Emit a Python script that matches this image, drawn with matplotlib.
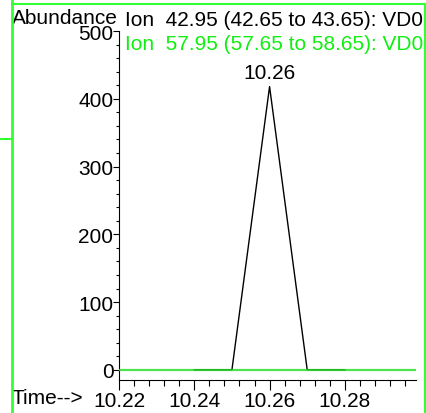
import matplotlib.pyplot as plt
from matplotlib.ticker import MultipleLocator
from matplotlib.lines import Line2D

plt.rcParams['font.family'] = ['Liberation Sans', 'DejaVu Sans']

# ion traces
time_a = [10.24, 10.25, 10.26, 10.27, 10.28]
abund_a = [0, 0, 418, 0, 0]
time_b = [10.22, 10.23, 10.24, 10.25, 10.26, 10.27, 10.28, 10.29, 10.30]
abund_b = [0, 0, 0, 0, 0, 0, 0, 0, 0]
peak_time = 10.26
peak_abund = 418
label_a = 'Ion  42.95 (42.65 to 43.65): VD0'
label_b = 'Ion  57.95 (57.65 to 58.65): VD0'

W, H = 427, 414
FS = 15
fig = plt.figure(figsize=(W / 100, H / 100), dpi=100)

# main plot area
ax = fig.add_axes([119 / W, 33 / H, (416 - 119) / W, (381 - 32) / H])
ax.plot(time_a, abund_a, color='black', lw=1.0, zorder=2)
ax.plot(time_b, abund_b, color='#22dd22', lw=1.6, alpha=0.8, zorder=3)
ax.annotate(f'{peak_time:.2f}', (peak_time, peak_abund), xytext=(0, 3),
            textcoords='offset points', ha='center', va='bottom', fontsize=FS)

ax.set_xlim(10.22, 10.2989)
ax.set_ylim(-15, 500)
for s in ['top', 'right']:
    ax.spines[s].set_visible(False)
ax.spines['left'].set_linewidth(0.8)
ax.spines['bottom'].set_linewidth(0.8)
ax.xaxis.set_major_locator(MultipleLocator(0.02))
ax.xaxis.set_minor_locator(MultipleLocator(0.004))
ax.yaxis.set_major_locator(MultipleLocator(100))
ax.yaxis.set_minor_locator(MultipleLocator(20))
ax.set_xticks([10.22, 10.24, 10.26, 10.28])
ax.set_xticklabels(['10.22', '10.24', '10.26', '10.28'])
ax.tick_params(axis='x', which='major', length=7, width=0.8, labelsize=FS, pad=1)
ax.tick_params(axis='x', which='minor', length=4, width=0.8)
ax.tick_params(axis='y', which='major', length=4, width=0.8, labelsize=FS, pad=0)
ax.tick_params(axis='y', which='minor', length=2, width=0.8)


def fy(py):
    return 1 - py / H


fig.text(12 / W, fy(19), 'Abundance', ha='left', va='center', fontsize=FS)
fig.text(125 / W, fy(21), label_a, ha='left', va='center', fontsize=FS, color='black')
fig.text(125 / W, fy(45), label_b, ha='left', va='center', fontsize=FS, color='#11ee11')
fig.text(12 / W, fy(399), 'Time-->', ha='left', va='center', fontsize=FS)

# green frame lines
green = '#33ff33'
fig.add_artist(Line2D([12 / W, 12 / W], [0, 1], color=green, lw=2, zorder=10))
fig.add_artist(Line2D([12 / W, 425 / W], [fy(5), fy(5)], color=green, lw=1.5, zorder=10))
fig.add_artist(Line2D([425 / W, 425 / W], [0, fy(5)], color=green, lw=1.5, zorder=10))
fig.add_artist(Line2D([0, 12 / W], [fy(140), fy(140)], color=green, lw=1.5, zorder=10))

fig.savefig('out.png', dpi=100)
